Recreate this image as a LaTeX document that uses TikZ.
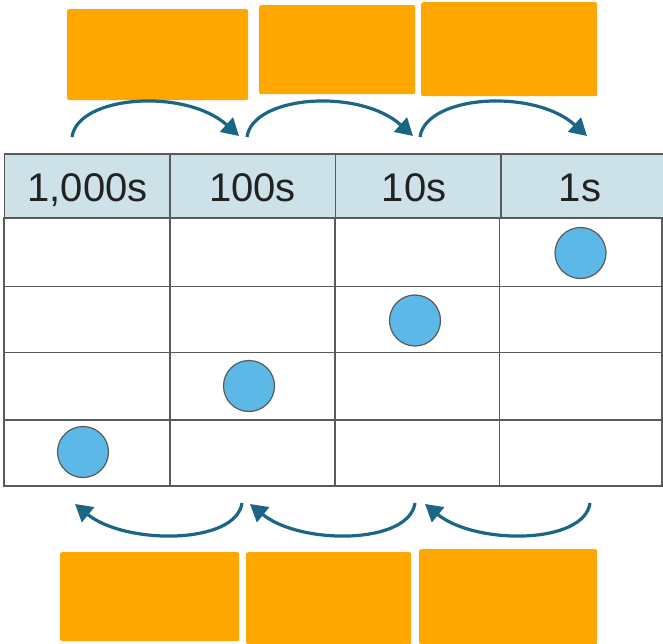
\documentclass[tikz,border=0pt]{standalone}
\usepackage{fontspec}
\setmainfont{Liberation Sans}
\usetikzlibrary{arrows.meta}
\definecolor{orangebox}{HTML}{FFA600}
\definecolor{hdrfill}{HTML}{CCE2E8}
\definecolor{arrcol}{HTML}{1B6585}
\definecolor{dotfill}{HTML}{5CB8E6}
\definecolor{gridcol}{HTML}{5A5A5A}
\definecolor{txtcol}{HTML}{222222}
\begin{document}
\begin{tikzpicture}[x=1pt,y=-1pt,
  obox/.style={fill=orangebox, rounded corners=2pt, inner sep=0pt, anchor=north west},
  hcell/.style={fill=hdrfill, draw=gridcol, line width=1.3pt, minimum width=165.5pt, minimum height=64pt, inner sep=0pt},
  htext/.style={text=txtcol, inner sep=0pt, anchor=base, font=\fontsize{40}{48}\selectfont},
  gridline/.style={draw=gridcol, line width=1.3pt},
  dotc/.style={circle, fill=dotfill, draw=gridcol, line width=1.2pt, minimum size=51pt, inner sep=0pt},
  arrline/.style={draw=arrcol, line width=3.2pt, -{Triangle[length=17pt,width=19pt]}}
]
\useasboundingbox (0,0) rectangle (663,644);
% orange boxes top
\node[obox, minimum width=181pt, minimum height=91pt] (t1) at (67,9) {};
\node[obox, minimum width=156pt, minimum height=89pt] (t2) at (259,5) {};
\node[obox, minimum width=176pt, minimum height=94pt] (t3) at (421,2) {};
% orange boxes bottom
\node[obox, minimum width=179pt, minimum height=89pt] (b1) at (60,552) {};
\node[obox, minimum width=165pt, minimum height=92pt] (b2) at (246,552) {};
\node[obox, minimum width=178pt, minimum height=95pt] (b3) at (419,549) {};
% header
\node[hcell] (h1) at (87.25,186) {};
\node[hcell] (h2) at (252.75,186) {};
\node[hcell] (h3) at (418.25,186) {};
\node[hcell] (h4) at (583.75,186) {};
\node[htext] (l1) at (87.5,202) {1,000s};
\node[htext] (l2) at (252.5,202) {100s};
\node[htext] (l3) at (414,202) {10s};
\node[htext] (l4) at (580,202) {1s};
% body grid
\draw[gridline] (4,218) rectangle (662,486);
\draw[gridline] (4,286.5) -- (662,286.5);
\draw[gridline] (4,352.5) -- (662,352.5);
\draw[gridline] (4,420) -- (662,420);
\draw[gridline] (170,218) -- (170,486);
\draw[gridline] (335,218) -- (335,486);
\draw[gridline] (499.5,218) -- (499.5,486);
% dots
\node[dotc] (d1) at (580.5,253) {};
\node[dotc] (d2) at (415,320.5) {};
\node[dotc] (d3) at (249,386) {};
\node[dotc] (d4) at (83,452) {};
% top arrows
\coordinate (ta1) at (72,137);
\coordinate (ta2) at (239,136);
\coordinate (tb1) at (247,137);
\coordinate (tb2) at (413,136);
\coordinate (tc1) at (420,137);
\coordinate (tc2) at (587,136);
\draw[arrline] (ta1) .. controls +(6,-42) and +(-53,-48) .. (ta2);
\draw[arrline] (tb1) .. controls +(6,-42) and +(-53,-48) .. (tb2);
\draw[arrline] (tc1) .. controls +(6,-42) and +(-53,-48) .. (tc2);
% bottom arrows
\coordinate (ba1) at (242,503);
\coordinate (ba2) at (75,504);
\coordinate (bb1) at (415,503);
\coordinate (bb2) at (250,504);
\coordinate (bc1) at (590,503);
\coordinate (bc2) at (425,504);
\draw[arrline] (ba1) .. controls +(-6,42) and +(50,41) .. (ba2);
\draw[arrline] (bb1) .. controls +(-6,42) and +(50,41) .. (bb2);
\draw[arrline] (bc1) .. controls +(-6,42) and +(50,41) .. (bc2);
\end{tikzpicture}
\end{document}
